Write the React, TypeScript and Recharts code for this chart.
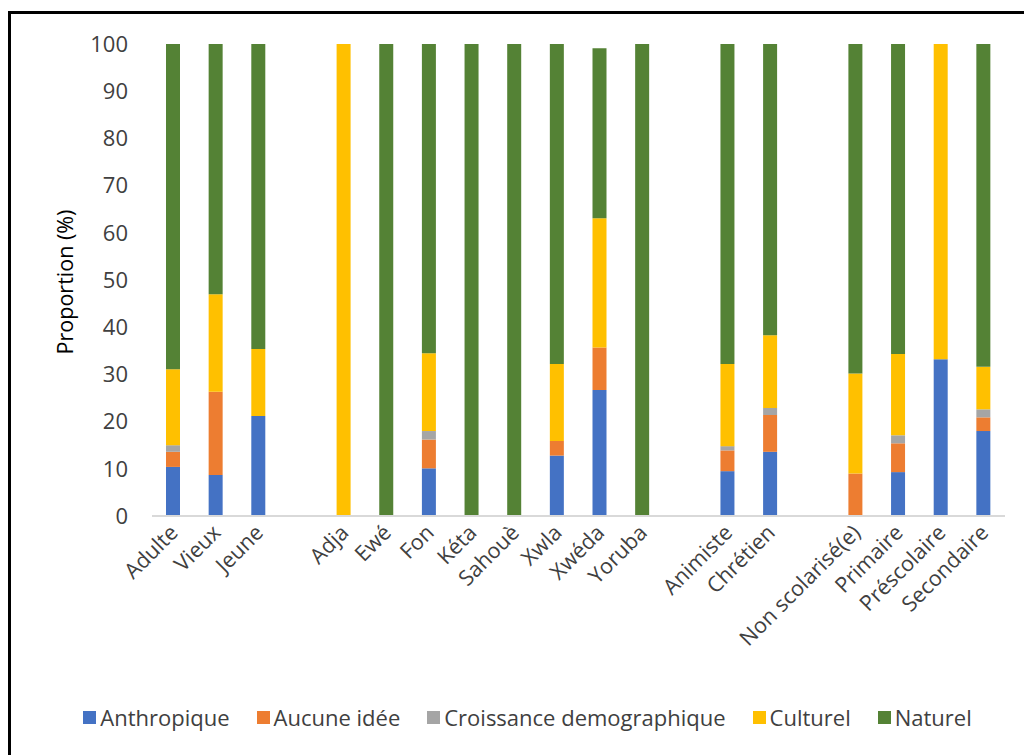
import { BarChart, Bar, XAxis, YAxis } from "recharts";

// categories (blank strings are the gaps between groups)
const categories = [
  "Adulte", "Vieux", "Jeune", " ",
  "Adja", "Ewé", "Fon", "Kéta", "Sahouè", "Xwla", "Xwéda", "Yoruba", "  ",
  "Animiste", "Chrétien", "   ",
  "Non scolarisé(e)", "Primaire", "Préscolaire", "Secondaire",
];

const anthropique = [10.4, 8.7, 21.2, 0, 0, 0, 10.1, 0, 0, 12.8, 26.7, 0, 0, 9.5, 13.6, 0, 0, 9.3, 33.2, 18.0];
const aucuneIdee = [3.2, 17.6, 0, 0, 0, 0, 6.1, 0, 0, 3.1, 9.0, 0, 0, 4.4, 7.8, 0, 9.0, 6.1, 0, 2.9];
const croissance = [1.4, 0, 0, 0, 0, 0, 1.8, 0, 0, 0, 0, 0, 0, 0.9, 1.5, 0, 0, 1.7, 0, 1.7];
const culturel = [16.1, 20.7, 14.2, 0, 100, 0, 16.5, 0, 0, 16.3, 27.4, 0, 0, 17.4, 15.4, 0, 21.2, 17.2, 66.8, 9.0];
const naturel = [68.9, 53.0, 64.6, 0, 0, 100, 65.5, 100, 100, 67.8, 36.0, 100, 0, 67.8, 61.7, 0, 69.8, 65.7, 0, 68.4];

const yTicks = [0, 10, 20, 30, 40, 50, 60, 70, 80, 90, 100];

const series = [
  { key: "anthropique", name: "Anthropique", color: "#4472C4", values: anthropique },
  { key: "aucune", name: "Aucune idée", color: "#ED7D31", values: aucuneIdee },
  { key: "croissance", name: "Croissance demographique", color: "#A5A5A5", values: croissance },
  { key: "culturel", name: "Culturel", color: "#FFC000", values: culturel },
  { key: "naturel", name: "Naturel", color: "#548235", values: naturel },
];

const data = categories.map((name, i) => {
  const row: Record<string, string | number> = { name };
  series.forEach((s) => {
    row[s.key] = s.values[i];
  });
  return row;
});

const FONT = "'Open Sans', sans-serif";

const XTick = (props: any) => {
  const { x, y, payload } = props;
  const label = String(payload.value).trim();
  if (!label) return null;
  const tx = x;
  const ty = y;
  return (
    <text
      x={tx}
      y={ty}
      transform={`rotate(-45 ${tx} ${ty})`}
      textAnchor="end"
      dominantBaseline="central"
      fontFamily={FONT}
      fontSize={21.5}
      fill="#404040"
    >
      {label}
    </text>
  );
};

const App = () => {
  return (
    <div style={{ position: "fixed", left: 0, top: 0, width: 1024, height: 755, overflow: "hidden", background: "#fff" }}>
      <div
        style={{
          position: "absolute",
          left: 8,
          top: 11,
          width: 1040,
          height: 780,
          border: "3px solid #000",
        }}
      />
      <div style={{ position: "absolute", left: 0, top: 0 }}>
        <BarChart width={1024} height={755} data={data} margin={{ top: 44, right: 19, bottom: 59, left: 0 }}>
          <XAxis
            dataKey="name"
            interval={0}
            tick={<XTick />}
            tickLine={false}
            axisLine={{ stroke: "#D9D9D9", strokeWidth: 2 }}
            height={180}
            tickMargin={6}
          />
          <YAxis
            domain={[0, 100]}
            ticks={yTicks}
            axisLine={false}
            tickLine={false}
            tickSize={6}
            tickMargin={18}
            width={152}
            tick={{ fontFamily: FONT, fontSize: 22, fill: "#404040" }}
            label={{
              content: () => (
                <text
                  x={64}
                  y={282}
                  transform="rotate(-90 64 282)"
                  textAnchor="middle"
                  dominantBaseline="central"
                  fontFamily={FONT}
                  fontSize={21.5}
                  fill="#000"
                >
                  Proportion (%)
                </text>
              ),
            }}
          />
          {series.map((s) => (
            <Bar
              key={s.key}
              dataKey={s.key}
              name={s.name}
              stackId="a"
              fill={s.color}
              barSize={14}
              isAnimationActive={false}
            />
          ))}
        </BarChart>
      </div>
      <div
        style={{
          position: "absolute",
          left: 0,
          top: 702,
          width: 1055,
          display: "flex",
          justifyContent: "center",
          alignItems: "center",
          gap: 27,
          fontFamily: FONT,
          fontSize: 22,
          color: "#404040",
        }}
      >
        {series.map((s) => (
          <div key={s.key} style={{ display: "flex", alignItems: "center", gap: 4 }}>
            <span style={{ display: "inline-block", width: 13, height: 13, background: s.color }} />
            <span>{s.name}</span>
          </div>
        ))}
      </div>
    </div>
  );
};

export default App;
